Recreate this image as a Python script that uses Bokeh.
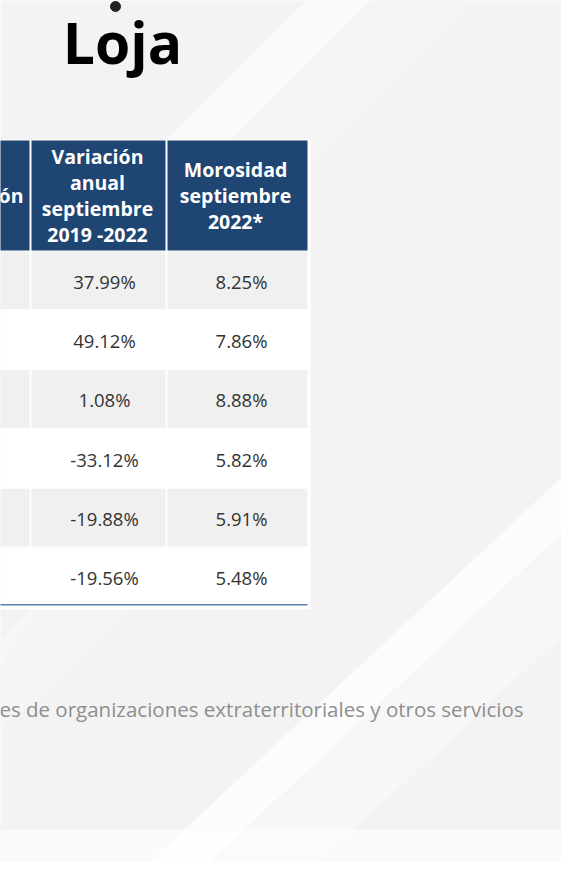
from bokeh.plotting import figure
from bokeh.models import Range1d, ColumnDataSource
from bokeh.core.properties import value
from bokeh.embed import file_html
from bokeh.resources import INLINE

# ---- data ----
title = "Loja"
header_cut = "ón"
header_var = ["Variación", "anual", "septiembre", "2019 -2022"]
header_mor = ["Morosidad", "septiembre", "2022*"]
variacion = [37.99, 49.12, 1.08, -33.12, -19.88, -19.56]
morosidad = [8.25, 7.86, 8.88, 5.82, 5.91, 5.48]
footnote = "es de organizaciones extraterritoriales y otros servicios"

# ---- layout constants ----
FONT = "Open Sans"
HEADER_BLUE = "#1f4573"
GRAY = "#f0f0f0"
col_left = [-12, 31, 167]
col_right = [29, 165, 307]
head_top, head_bot = 140, 250
row_top, row_h = 251, 59.3
head_line = 26
n = len(variacion)

W, H = 561, 862
p = figure(width=W, height=H, x_range=Range1d(0, W), y_range=Range1d(H, 0),
           output_backend="svg", toolbar_location=None, min_border=0,
           x_axis_location=None, y_axis_location=None)
p.grid.visible = False
p.outline_line_color = None
p.background_fill_color = "#f3f3f3"
p.border_fill_color = "#f3f3f3"

# ---- background streaks ----
p.patches(xs=[[305, 370, 0, 0], [370, 470, 0, 0]],
          ys=[[0, 0, 370, 305], [0, 0, 470, 370]],
          fill_color="white", fill_alpha=[0.55, 0.22], line_color=None)
p.patches(xs=[[590, 650, 200, 140], [650, 760, 310, 200],
              [-10, 40, -10], [40, 140, -10, -10]],
          ys=[[450, 450, 870, 870], [450, 450, 870, 870],
              [680, 600, 650], [600, 600, 740, 650]],
          fill_color="white", fill_alpha=[0.75, 0.35, 0.3, 0.2], line_color=None)
p.quad(left=[-10], right=[600], top=[829], bottom=[900], fill_color="white",
       fill_alpha=0.55, line_color=None)

# ---- table backing ----
p.quad(left=[-12], right=[310], top=[139], bottom=[609], fill_color="white", line_color=None)

# header cells
p.quad(left=col_left, right=col_right, top=[head_top] * 3, bottom=[head_bot] * 3,
       fill_color=HEADER_BLUE, line_color=None)

# body cells (gray rows)
rl, rr, rt, rb = [], [], [], []
for i in range(n):
    if i % 2 == 0:
        for c in range(3):
            rl.append(col_left[c]); rr.append(col_right[c])
            rt.append(row_top + i * row_h); rb.append(row_top + (i + 1) * row_h - 1.5)
p.quad(left=rl, right=rr, top=rt, bottom=rb, fill_color=GRAY, line_color=None)

# bottom rule
p.line(x=[-12, 307], y=[row_top + n * row_h - 2.5] * 2, line_color="#5b7db0", line_width=1.5)

# header text (one glyph per line)
head_mid = (head_top + head_bot) / 2
hx, hy, ht = [], [], []
for lines, cx in ((header_var, 97), (header_mor, 235)):
    k = len(lines)
    for j, s in enumerate(lines):
        hx.append(cx)
        hy.append(head_mid + (j - (k - 1) / 2) * head_line)
        ht.append(s)
p.text(x=hx, y=hy, text=ht, text_align="center", text_baseline="middle",
       text_font=value(FONT), text_font_style="bold", text_font_size="19.5px",
       text_color="white")
p.text(x=[23], y=[head_mid], text=[header_cut], text_align="right", text_baseline="middle",
       text_font=value(FONT), text_font_style="bold", text_font_size="19.5px", text_color="white")

# body text
src = ColumnDataSource(dict(
    x=[104] * n + [241] * n,
    y=[row_top + (i + 0.5) * row_h for i in range(n)] * 2,
    t=[f"{v:.2f}%" for v in variacion] + [f"{v:.2f}%" for v in morosidad]))
p.text(x="x", y="y", text="t", source=src, text_align="center", text_baseline="middle",
       text_font=value(FONT), text_font_size="18.5px", text_color="#333333")

# title
p.text(x=[122], y=[41], text=[title], text_align="center", text_baseline="middle",
       text_font=value(FONT), text_font_style="bold", text_font_size="57px", text_color="black")
p.scatter(x=[115], y=[6], size=10, color="#222222")

# footnote
p.text(x=[523], y=[708], text=[footnote], text_align="right", text_baseline="middle",
       text_font=value(FONT), text_font_size="20.5px", text_color="#8e8e8e")

open("out.html", "w").write(file_html(p, INLINE))
